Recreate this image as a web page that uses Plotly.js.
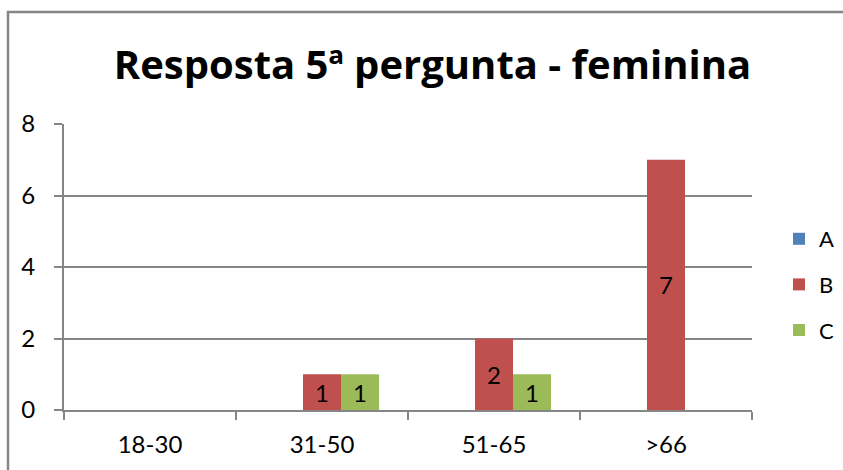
<!DOCTYPE html>
<html><head><meta charset="utf-8">
<script src="https://cdn.plot.ly/plotly-3.0.1.min.js"></script>
<style>body{margin:0;background:#fff}#c{width:843px;height:470px}</style>
</head><body><div id="c"></div>
<script>
const categories = ['18-30','31-50','51-65','>66'];
const seriesNames = ['A','B','C'];
const valuesA = [0,0,0,0];
const valuesB = [0,1,2,7];
const valuesC = [0,1,1,0];
const colors = ['#4F81BD','#C0504D','#9BBB59'];
const allValues = [valuesA, valuesB, valuesC];
const FONT = 'Lato, "Open Sans", sans-serif';
const TFONT = '"Open Sans", Lato, sans-serif';

const traces = allValues.map((vals,i)=>({
  type:'bar', name:seriesNames[i], x:categories, y:vals,
  marker:{color:colors[i]},
  text: vals.map(v=> v>0 ? String(v) : ''),
  textposition:'inside', insidetextanchor:'middle', constraintext:'none',
  textangle:0,
  insidetextfont:{family:FONT,size:24,color:'#000'},
  legendgroup:'g'+i, hoverinfo:'none'
}));

const L=64,R=91,T=124,B=60,W=843-L-R,H=470-T-B;
const layout = {
  width:843, height:470,
  margin:{l:L,r:R,t:T,b:B,pad:0,autoexpand:false},
  paper_bgcolor:'#fff', plot_bgcolor:'#fff',
  barmode:'group', bargap:0.337, bargroupgap:0,
  font:{family:FONT,size:24,color:'#000'},
  title:{text:'<b>Resposta 5ª pergunta - feminina</b>', font:{family:TFONT,size:40,color:'#000'},
    x:0.513, xanchor:'center', y:1-65/470, yanchor:'middle'},
  xaxis:{type:'category', tickson:'boundaries', ticks:'outside', ticklen:8, tickcolor:'#868686', tickwidth:2,
    showline:true, linecolor:'#868686', linewidth:2, showgrid:false, zeroline:false, ticklabelstandoff:12,
    tickfont:{family:FONT,size:24,color:'#000'}, fixedrange:true},
  yaxis:{range:[0,8], dtick:2, tick0:0, ticks:'outside', ticklen:8, tickcolor:'#868686', tickwidth:2,
    showline:true, linecolor:'#868686', linewidth:2, showgrid:true, gridcolor:'#868686', gridwidth:2,
    zeroline:false, ticklabelstandoff:14, tickfont:{family:FONT,size:24,color:'#000'}, fixedrange:true},
  showlegend:true,
  legend:{x:(779-L)/W, xanchor:'left', y:1-(218-T)/H, yanchor:'top',
    traceorder:'grouped', tracegroupgap:14, font:{family:FONT,size:22,color:'#000'},
    bgcolor:'rgba(0,0,0,0)', itemclick:false, itemdoubleclick:false},
  shapes:[{type:'rect', xref:'paper', yref:'paper',
    x0:(8-L)/W, x1:(900-L)/W, y0:1-(520-T)/H, y1:1-(12-T)/H,
    line:{color:'#868686',width:2.5}, fillcolor:'rgba(0,0,0,0)', layer:'below'}]
};
Plotly.newPlot('c', traces, layout, {displayModeBar:false, staticPlot:true});
</script></body></html>
